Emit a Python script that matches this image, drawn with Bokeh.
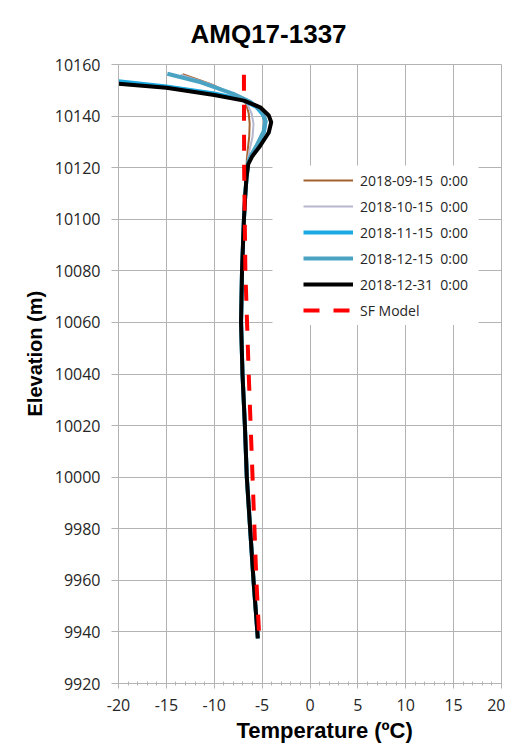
from bokeh.plotting import figure
from bokeh.models import Range1d, FixedTicker, BoxAnnotation, Title
from bokeh.embed import file_html
from bokeh.resources import INLINE

# ---------------- data ----------------
x_ticks = [-20, -15, -10, -5, 0, 5, 10, 15, 20]
x_minor = list(range(-20, 21))
y_ticks = [9920, 9940, 9960, 9980, 10000, 10020, 10040, 10060, 10080, 10100, 10120, 10140, 10160]

# shared lower part (all logger profiles coincide below ~10110 m)
lower_elev = [10110, 10100, 10090, 10080, 10060, 10040, 10020, 10000, 9980, 9960, 9940, 9937.5]
lower_temp = [-6.75, -6.9, -7.0, -7.1, -7.2, -7.05, -6.8, -6.6, -6.25, -5.9, -5.5, -5.45]

sep15_elev = [10156.2, 10152.5, 10148, 10145, 10141, 10137, 10132, 10127, 10123, 10118]
sep15_temp = [-13.3, -10.4, -7.8, -6.7, -6.4, -6.3, -6.35, -6.5, -6.6, -6.65]

oct15_elev = [10156, 10152.5, 10148, 10145, 10141, 10137, 10132, 10127, 10123, 10118]
oct15_temp = [-13.5, -10.5, -7.8, -6.6, -6.1, -5.9, -6.0, -6.3, -6.5, -6.63]

nov15_elev = [10153.5, 10151.5, 10148.8, 10146.5, 10143.5, 10140.5, 10138, 10134, 10129, 10125, 10122, 10116]
nov15_temp = [-20, -15, -10, -7.2, -5.6, -4.9, -4.65, -4.8, -5.5, -6.1, -6.45, -6.63]

dec15_elev = [10156.4, 10153.1, 10148.6, 10145.4, 10142, 10138, 10134, 10129, 10125, 10122, 10116]
dec15_temp = [-14.9, -11.4, -8.0, -6.2, -5.0, -4.65, -4.85, -5.5, -6.1, -6.45, -6.63]

dec31_elev = [10152.5, 10151, 10148.2, 10146, 10143.4, 10140.2, 10137.6, 10133.7, 10128.5, 10124.3, 10121.4, 10116.2]
dec31_temp = [-20, -15, -10, -6.9, -5.2, -4.3, -4.05, -4.3, -5.2, -6.05, -6.45, -6.63]

sf_elev = [10156, 10120, 10080, 10040, 10000, 9960, 9938]
sf_temp = [-6.9, -6.88, -6.75, -6.4, -6.0, -5.6, -5.3]

series = [
    ("2018-09-15  0:00", sep15_temp, sep15_elev, "#a5622f", 2),
    ("2018-10-15  0:00", oct15_temp, oct15_elev, "#b7b7cf", 2),
    ("2018-11-15  0:00", nov15_temp, nov15_elev, "#1aa9e1", 4),
    ("2018-12-15  0:00", dec15_temp, dec15_elev, "#4aa3c3", 4),
    ("2018-12-31  0:00", dec31_temp, dec31_elev, "#000000", 4),
]

GRID = "#b3b3b3"
FONT = "Open Sans"

p = figure(frame_width=383, frame_height=619,
           min_border_left=118, min_border_right=4, min_border_top=64, min_border_bottom=57,
           x_range=Range1d(-20, 20), y_range=Range1d(9920, 10160),
           output_backend="svg", toolbar_location=None)

p.title.text = "AMQ17-1337"
p.title.text_font = "Liberation Sans"
p.title.text_font_style = "bold"
p.title.text_font_size = "26px"
p.title.text_color = "#000000"
p.title.align = "left"
p.title.offset = 72
p.title.standoff = 32

p.outline_line_color = GRID
p.background_fill_color = "white"
p.border_fill_color = "white"

p.xaxis.ticker = FixedTicker(ticks=x_ticks, minor_ticks=x_minor)
p.yaxis.ticker = FixedTicker(ticks=y_ticks, minor_ticks=[])
p.xaxis.major_label_overrides = {t: str(t) for t in x_ticks}
p.xgrid.ticker = FixedTicker(ticks=x_ticks)
p.ygrid.ticker = FixedTicker(ticks=y_ticks)
p.grid.grid_line_color = GRID
p.grid.grid_line_width = 1

for ax in (p.xaxis, p.yaxis):
    ax.axis_line_color = GRID
    ax.major_tick_line_color = GRID
    ax.minor_tick_line_color = GRID
    ax.major_tick_in = 0
    ax.major_label_text_font = FONT
    ax.major_label_text_font_size = "16px"
    ax.major_label_text_color = "#262626"

p.xaxis.major_tick_out = 5
p.xaxis.minor_tick_in = 2
p.xaxis.minor_tick_out = 2
p.xaxis.major_label_standoff = 10

p.yaxis.major_tick_out = 7
p.yaxis.minor_tick_in = 0
p.yaxis.minor_tick_out = 0
p.yaxis.major_label_standoff = 11

# axis titles (as titles so they can be offset like the original)
xt = Title(text="Temperature (ºC)", align="left", offset=118, standoff=4,
           text_font="Liberation Sans", text_font_style="bold", text_font_size="22px",
           text_color="#000000")
p.add_layout(xt, "below")
yt = Title(text="Elevation (m)", align="left", offset=267, standoff=12,
           text_font="Liberation Sans", text_font_style="bold", text_font_size="20px",
           text_color="#000000")
p.add_layout(yt, "left")

# white legend background
p.add_layout(BoxAnnotation(left=-3.92, right=17.6, top=10120.8, bottom=10059.0,
                           fill_color="white", fill_alpha=1.0, line_alpha=0))

for name, t, e, color, w in series:
    p.line(t + lower_temp, e + lower_elev, line_color=color, line_width=w,
           legend_label=name)

p.line(sf_temp, sf_elev, line_color="#ff0000", line_width=4, line_dash="16 14",
       legend_label="SF Model")

lg = p.legend[0]
lg.location = (185, 360)
lg.label_text_font = FONT
lg.label_text_font_size = "14px"
lg.label_text_color = "#262626"
lg.label_standoff = 7
lg.glyph_width = 50
lg.glyph_height = 26
lg.label_height = 26
lg.spacing = 0
lg.padding = 0
lg.margin = 0
lg.border_line_alpha = 0
lg.background_fill_alpha = 0

open("out.html", "w").write(file_html(p, INLINE))
